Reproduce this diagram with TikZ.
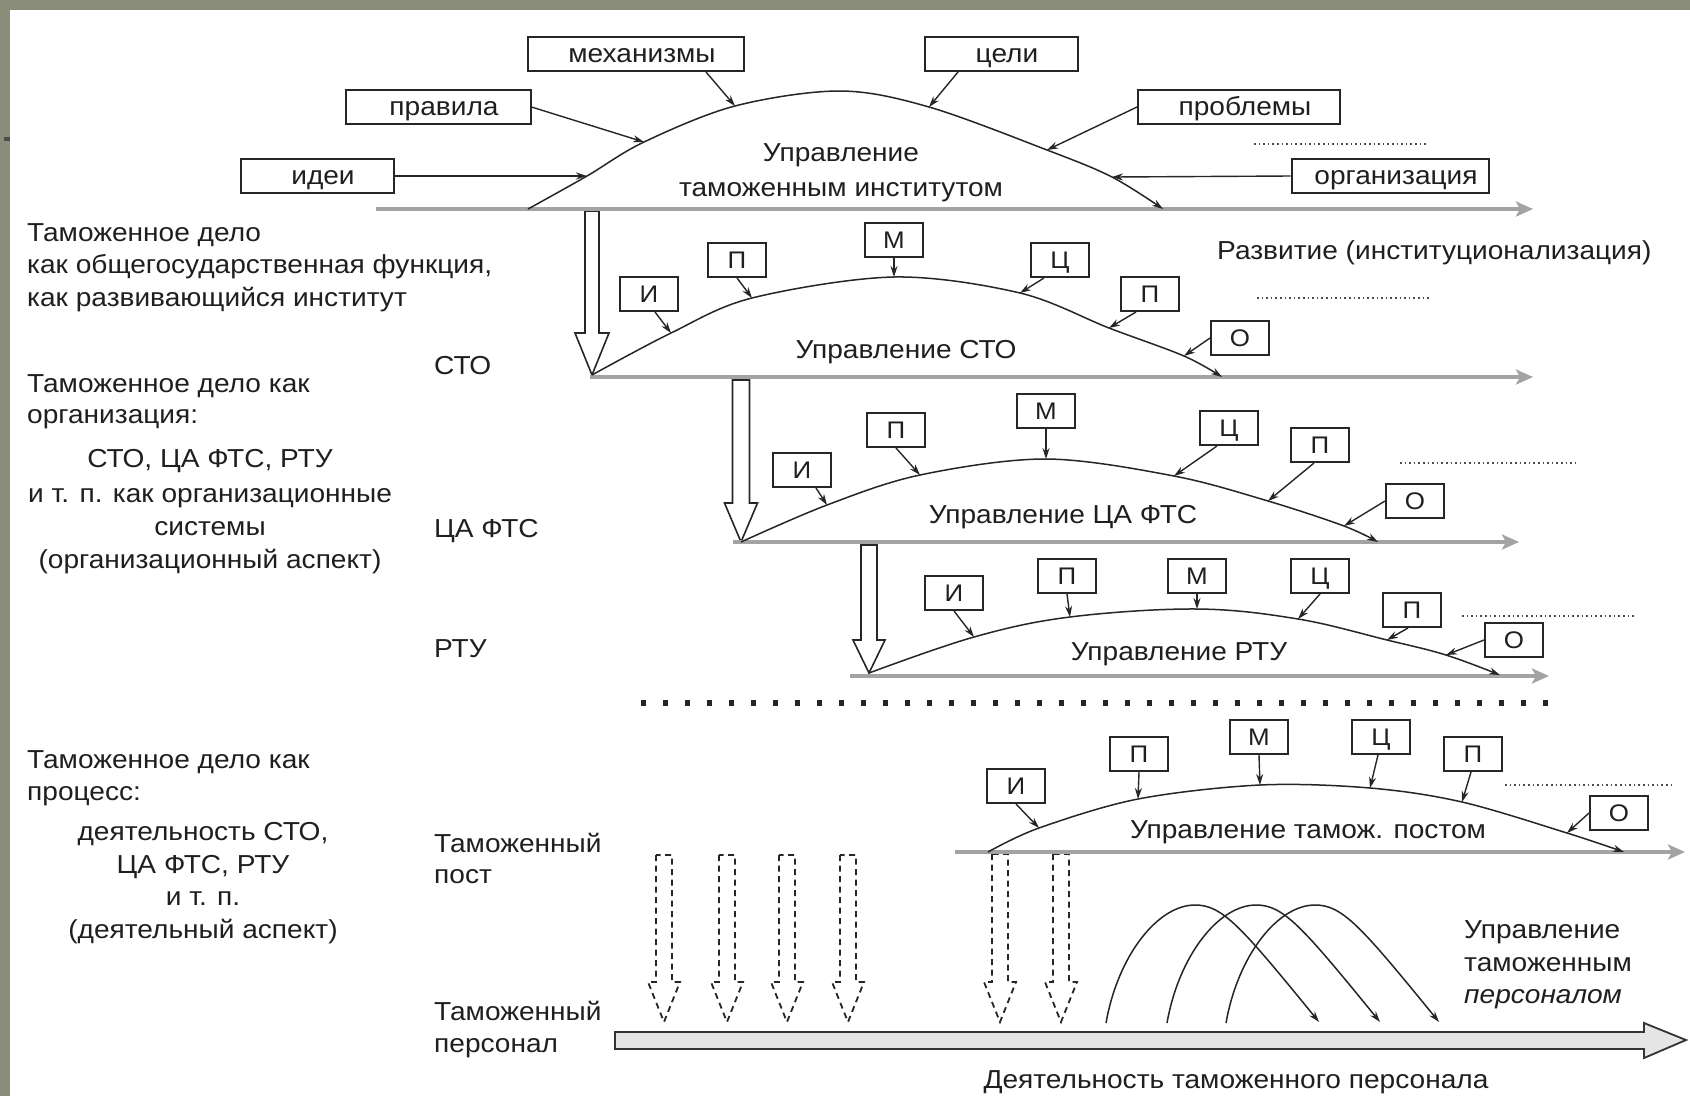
\documentclass[tikz,border=0pt]{standalone}
\usepackage{fontspec}
\setmainfont{Liberation Sans}[FakeStretch=1.08]
\usetikzlibrary{arrows.meta,calc}
\definecolor{bordercol}{HTML}{8B8D7B}
\definecolor{axisgray}{HTML}{A3A3A3}
\newcommand\hollowdown[7][]{\draw[#1] ({#2-#6},#3) -- ({#2-#6},#4) -- ({#2-#7},#4) -- (#2,#5) -- ({#2+#7},#4) -- ({#2+#6},#4) -- ({#2+#6},#3) -- cycle;}
\begin{document}
\begin{tikzpicture}[x=1pt,y=-1pt,
  txt/.style={font=\fontsize{26}{33}\selectfont, inner sep=0pt, text=black!88},
  lbox/.style={draw=black!85, line width=2pt, fill=white, font=\fontsize{26}{30}\selectfont, minimum height=34pt, inner sep=0pt, text=black!88, text height=16.5pt, text depth=0pt, execute at begin node=\hspace*{12pt}},
  sbox/.style={draw=black!85, line width=2pt, fill=white, font=\fontsize{24}{28}\selectfont, minimum width=58pt, minimum height=34pt, inner sep=0pt, text=black!88, text height=17pt, text depth=0pt},
  arr/.style={line width=1.4pt, draw=black!85, -{Stealth[length=11pt,width=7pt]}},
  crv/.style={line width=1.5pt, draw=black!85, -{Stealth[length=11pt,width=7pt]}},
  axis/.style={line width=4.5pt, draw=axisgray, -{Stealth[length=17pt,width=15pt,inset=4pt]}},
  fdots/.style={line width=1.6pt, draw=black!70, dash pattern=on 1.6pt off 3pt},
  harr/.style={draw=black!85, line width=1.6pt, fill=white},
  dharr/.style={draw=black!85, line width=1.8pt, dash pattern=on 6pt off 4.5pt},
]
\useasboundingbox (0,0) rectangle (1690,1096);
\fill[white] (0,0) rectangle (1690,1096);
\fill[bordercol] (0,0) rectangle (1690,10);
\fill[bordercol] (0,0) rectangle (10,1096);
\fill[black!70] (4,137) rectangle (10,141);

% hollow arrows
\hollowdown[harr]{592}{211}{333}{375}{7}{17}
\hollowdown[harr]{741}{380}{503}{542}{8.5}{16.5}
\hollowdown[harr]{869}{545}{640}{673}{8}{16}
\foreach \xx/\yt in {664/855,727/855,787/855,848/855,1000/854,1061/854}
  {\hollowdown[dharr]{\xx}{\yt}{982}{1022}{8}{16}}

% axes
\coordinate (X1s) at (376,209); \coordinate (X1e) at (1533,209);
\coordinate (X2s) at (590,377); \coordinate (X2e) at (1533,377);
\coordinate (X3s) at (733,542); \coordinate (X3e) at (1519,542);
\coordinate (X4s) at (850,676); \coordinate (X4e) at (1549,676);
\coordinate (X5s) at (955,852); \coordinate (X5e) at (1685,852);
\draw[axis] (X1s) -- (X1e);
\draw[axis] (X2s) -- (X2e);
\draw[axis] (X3s) -- (X3e);
\draw[axis] (X4s) -- (X4e);
\draw[axis] (X5s) -- (X5e);

% bottom big arrow
\draw[draw=black!80, line width=1.8pt, fill=black!10] (615,1032) -- (1644,1032) -- (1644,1023) -- (1686,1040) -- (1644,1058) -- (1644,1049) -- (615,1049) -- cycle;

% curve points
\coordinate (A1s) at (528,209); \coordinate (A1i) at (587,176); \coordinate (A1p) at (644,142);
\coordinate (A1m) at (735,106); \coordinate (A1t) at (840,91); \coordinate (A1c) at (929,107);
\coordinate (A1q) at (1047,150); \coordinate (A1o) at (1112,177); \coordinate (A1e) at (1163,209);
\draw[crv] plot[smooth,tension=0.55] coordinates {(A1s) (A1i) (A1p) (A1m) (A1t) (A1c) (A1q) (A1o) (A1e)};

\coordinate (B2s) at (592,375); \coordinate (B2i) at (671,333); \coordinate (B2p) at (752,298);
\coordinate (B2m) at (894,277); \coordinate (B2c) at (1020,293); \coordinate (B2q) at (1109,328);
\coordinate (B2o) at (1184,356); \coordinate (B2e) at (1222,377);
\draw[crv] plot[smooth,tension=0.55] coordinates {(B2s) (B2i) (B2p) (B2m) (B2c) (B2q) (B2o) (B2e)};

\coordinate (B3s) at (741,542); \coordinate (B3i) at (827,505); \coordinate (B3p) at (920,475);
\coordinate (B3m) at (1046,459); \coordinate (B3c) at (1174,476); \coordinate (B3q) at (1268,501);
\coordinate (B3o) at (1344,526); \coordinate (B3e) at (1378,542);
\draw[crv] plot[smooth,tension=0.55] coordinates {(B3s) (B3i) (B3p) (B3m) (B3c) (B3q) (B3o) (B3e)};

\coordinate (B4s) at (869,673); \coordinate (B4i) at (974,637); \coordinate (B4p) at (1070,617);
\coordinate (B4m) at (1197,609); \coordinate (B4c) at (1298,619); \coordinate (B4q) at (1387,640);
\coordinate (B4o) at (1446,655); \coordinate (B4e) at (1500,675);
\draw[crv] plot[smooth,tension=0.6] coordinates {(B4s) (B4i) (B4p) (B4m) (B4c) (B4q) (B4o) (B4e)};

\coordinate (B5s) at (988,852); \coordinate (B5i) at (1039,828); \coordinate (B5p) at (1138,799);
\coordinate (B5m) at (1260,785); \coordinate (B5c) at (1370,788); \coordinate (B5q) at (1462,802);
\coordinate (B5o) at (1567,833); \coordinate (B5e) at (1624,852);
\draw[crv] plot[smooth,tension=0.55] coordinates {(B5s) (B5i) (B5p) (B5m) (B5c) (B5q) (B5o) (B5e)};

% three arcs (personnel)
\foreach \d [count=\k] in {0,61,120}{
  \coordinate (P\k s) at ({1106+\d},1023);
  \coordinate (P\k t) at ({1195+\d},905);
  \coordinate (P\k e) at ({1319+\d},1022);
  \draw[crv] (P\k s) .. controls ({1118+\d},955) and ({1158+\d},905) .. (P\k t)
     .. controls ({1222+\d},905) and ({1240+\d},925) .. (P\k e);
}

% top boxes
\node[lbox, minimum width=216pt] (mech) at (636,54) {механизмы};
\node[lbox, minimum width=185pt] (prav) at (438,107) {правила};
\node[lbox, minimum width=153pt] (idei) at (317,176) {идеи};
\node[lbox, minimum width=153pt] (celi) at (1001,54) {цели};
\node[lbox, minimum width=202pt] (probl) at (1239,107) {проблемы};
\node[lbox, minimum width=197pt] (org) at (1390,176) {организация};
\draw[arr] (idei.east) -- (A1i);
\draw[arr] (prav.east) -- (A1p);
\draw[arr] ([xshift=70pt]mech.south) -- (A1m);
\draw[arr] ([xshift=-43pt]celi.south) -- (A1c);
\draw[arr] (probl.west) -- (A1q);
\draw[arr] (org.west) -- (A1o);

% layer 2 boxes
\node[sbox] (b2i) at (649,294) {И};
\node[sbox] (b2p) at (737,260) {П};
\node[sbox] (b2m) at (894,240) {М};
\node[sbox] (b2c) at (1060,260) {Ц};
\node[sbox] (b2q) at (1150,294) {П};
\node[sbox] (b2o) at (1240,338) {О};
\draw[arr] ([xshift=6pt]b2i.south) -- (B2i);
\draw[arr] (b2p.south) -- (B2p);
\draw[arr] (b2m.south) -- (B2m);
\draw[arr] ([xshift=-16pt]b2c.south) -- (B2c);
\draw[arr] ([xshift=-14pt]b2q.south) -- (B2q);
\draw[arr] (b2o.west) -- (B2o);

% layer 3 boxes
\node[sbox] (b3i) at (802,470) {И};
\node[sbox] (b3p) at (896,430) {П};
\node[sbox] (b3m) at (1046,411) {М};
\node[sbox] (b3c) at (1229,428) {Ц};
\node[sbox] (b3q) at (1320,445) {П};
\node[sbox] (b3o) at (1415,501) {О};
\draw[arr] ([xshift=14pt]b3i.south) -- (B3i);
\draw[arr] (b3p.south) -- (B3p);
\draw[arr] (b3m.south) -- (B3m);
\draw[arr] ([xshift=-12pt]b3c.south) -- (B3c);
\draw[arr] ([xshift=-6pt]b3q.south) -- (B3q);
\draw[arr] (b3o.west) -- (B3o);

% layer 4 boxes
\node[sbox] (b4i) at (954,593) {И};
\node[sbox] (b4p) at (1067,576) {П};
\node[sbox] (b4m) at (1197,576) {М};
\node[sbox] (b4c) at (1320,576) {Ц};
\node[sbox] (b4q) at (1412,610) {П};
\node[sbox] (b4o) at (1514,640) {О};
\draw[arr] (b4i.south) -- (B4i);
\draw[arr] (b4p.south) -- (B4p);
\draw[arr] (b4m.south) -- (B4m);
\draw[arr] (b4c.south) -- (B4c);
\draw[arr] ([xshift=-4pt]b4q.south) -- (B4q);
\draw[arr] (b4o.west) -- (B4o);

% layer 5 boxes
\node[sbox] (b5i) at (1016,786) {И};
\node[sbox] (b5p) at (1139,754) {П};
\node[sbox] (b5m) at (1259,737) {М};
\node[sbox] (b5c) at (1381,737) {Ц};
\node[sbox] (b5q) at (1473,754) {П};
\node[sbox] (b5o) at (1619,813) {О};
\draw[arr] (b5i.south) -- (B5i);
\draw[arr] (b5p.south) -- (B5p);
\draw[arr] (b5m.south) -- (B5m);
\draw[arr] ([xshift=-3pt]b5c.south) -- (B5c);
\draw[arr] ([xshift=-2pt]b5q.south) -- (B5q);
\draw[arr] (b5o.west) -- (B5o);

% thin dotted lines
\coordinate (D1a) at (1254,144); \coordinate (D1b) at (1427,144);
\coordinate (D2a) at (1257,298); \coordinate (D2b) at (1430,298);
\coordinate (D3a) at (1400,463); \coordinate (D3b) at (1575,463);
\coordinate (D4a) at (1462,616); \coordinate (D4b) at (1634,616);
\coordinate (D5a) at (1505,785); \coordinate (D5b) at (1675,785);
\draw[fdots] (D1a) -- (D1b);
\draw[fdots] (D2a) -- (D2b);
\draw[fdots] (D3a) -- (D3b);
\draw[fdots] (D4a) -- (D4b);
\draw[fdots] (D5a) -- (D5b);
% big dotted separator
\coordinate (S1) at (641,703); \coordinate (S2) at (1562,703);
\draw[line width=6pt, draw=black!85, dash pattern=on 5pt off 17pt] (S1) -- (S2);

% left texts
\node[txt, anchor=base west] (l1a) at (27,241) {Таможенное дело};
\node[txt, anchor=base west] (l1b) at (27,273) {как общегосударственная функция,};
\node[txt, anchor=base west] (l1c) at (27,306) {как развивающийся институт};
\node[txt, anchor=base west] (l2a) at (27,392) {Таможенное дело как};
\node[txt, anchor=base west] (l2b) at (27,423) {организация:};
\node[txt, anchor=base] (l2c) at (210,467) {СТО, ЦА ФТС, РТУ};
\node[txt, anchor=base] (l2d) at (210,502) {и т. п. как организационные};
\node[txt, anchor=base] (l2e) at (210,535) {системы};
\node[txt, anchor=base] (l2f) at (210,568) {(организационный аспект)};
\node[txt, anchor=base west] (l3a) at (27,768) {Таможенное дело как};
\node[txt, anchor=base west] (l3b) at (27,800) {процесс:};
\node[txt, anchor=base] (l3c) at (203,840) {деятельность СТО,};
\node[txt, anchor=base] (l3d) at (203,873) {ЦА ФТС, РТУ};
\node[txt, anchor=base] (l3e) at (203,905) {и т. п.};
\node[txt, anchor=base] (l3f) at (203,938) {(деятельный аспект)};

% level labels
\node[txt, anchor=base west] (lsto) at (434,374) {СТО};
\node[txt, anchor=base west] (lca) at (434,537) {ЦА ФТС};
\node[txt, anchor=base west] (lrtu) at (434,657) {РТУ};
\node[txt, anchor=base west] (lpost1) at (434,852) {Таможенный};
\node[txt, anchor=base west] (lpost2) at (434,883) {пост};
\node[txt, anchor=base west] (lpers1) at (434,1020) {Таможенный};
\node[txt, anchor=base west] (lpers2) at (434,1052) {персонал};

% right/inner texts
\node[txt, anchor=base west] (razv) at (1217,259) {Развитие (институционализация)};
\node[txt, anchor=base] (u1a) at (841,161) {Управление};
\node[txt, anchor=base] (u1b) at (841,196) {таможенным институтом};
\node[txt, anchor=base] (u2) at (906,358) {Управление СТО};
\node[txt, anchor=base] (u3) at (1063,523) {Управление ЦА ФТС};
\node[txt, anchor=base] (u4) at (1179,660) {Управление РТУ};
\node[txt, anchor=base] (u5) at (1308,838) {Управление тамож. постом};
\node[txt, anchor=base] (dey) at (1236,1088) {Деятельность таможенного персонала};
\node[txt, anchor=base west] (up1) at (1464,938) {Управление};
\node[txt, anchor=base west] (up2) at (1464,971) {таможенным};
\node[txt, anchor=base west, font=\fontsize{26}{33}\selectfont\itshape] (up3) at (1464,1003) {персоналом};
\end{tikzpicture}
\end{document}
